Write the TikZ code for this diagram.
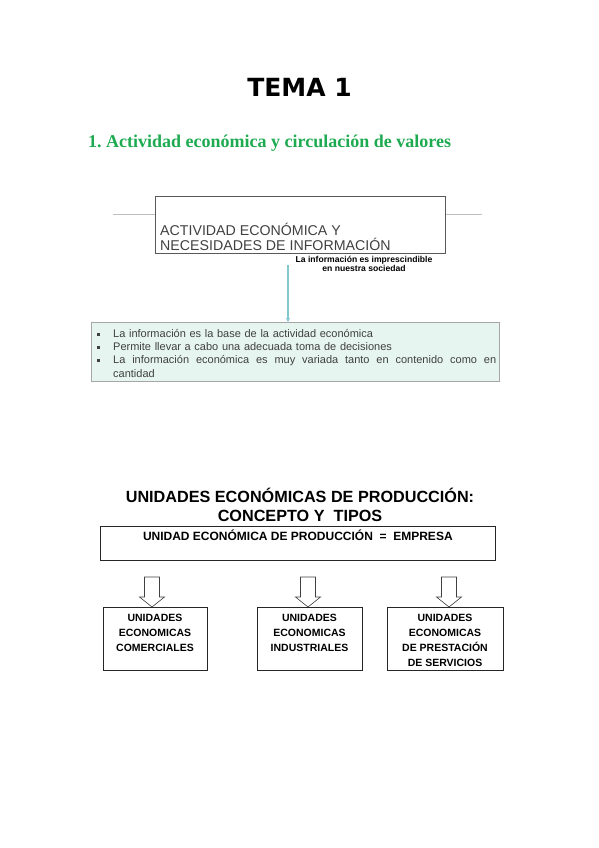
\documentclass[tikz,border=0pt]{standalone}
\usepackage{fontspec}
\setmainfont{Liberation Serif}
\setsansfont{Liberation Sans}
\newfontfamily\temafont{DejaVu Sans}
\usetikzlibrary{positioning,arrows.meta}

\newcommand{\infobullet}{\makebox[17pt][l]{\hspace*{1pt}\rule[1.5pt]{3pt}{3pt}}}

\begin{document}
\begin{tikzpicture}[x=1pt,y=-1pt]
  % some colors
  \definecolor{heading}{RGB}{30,170,80}
  \definecolor{mint}{RGB}{230,245,240}
  \definecolor{teal}{RGB}{130,200,210}
  \colorlet{frame}{black!65}
  \colorlet{ink}{black!75}
  % some styles
  \tikzset{
    titlebox/.style={draw=frame, line width=0.8pt, inner sep=0pt,
      minimum width=290pt, minimum height=57pt},
    titletext/.style={inner sep=0pt, align=left, text=ink,
      font=\sffamily\fontsize{14.2}{15}\selectfont},
    notetext/.style={inner sep=0pt, align=center,
      font=\sffamily\bfseries\fontsize{8.6}{9}\selectfont},
    sideline/.style={draw=black!25, line width=0.8pt},
    infoarrow/.style={draw=teal, line width=1.3pt,
      -{Stealth[length=4pt,width=4pt]}},
    listbox/.style={draw=black!35, fill=mint, line width=0.8pt, inner sep=0pt,
      minimum width=408pt, minimum height=59pt},
    listtext/.style={inner sep=0pt, align=left, text width=400pt, text=ink,
      font=\sffamily\fontsize{11}{13.3}\selectfont},
    unitbox/.style={draw=black!85, line width=0.7pt, inner sep=0pt,
      minimum height=#1},
    unittext/.style={inner sep=0pt, align=center,
      font=\sffamily\bfseries\fontsize{10.5}{15}\selectfont},
    blockarrow/.style={draw=black!75, fill=white, line width=0.6pt,
      line join=miter},
  }
  \useasboundingbox (0,0) rectangle (599,848);

  % page headings
  \node[font=\temafont\bfseries\fontsize{25}{30}\selectfont] (tema) at (299.5,87) {TEMA 1};
  \node[anchor=west, inner sep=0pt, text=heading, font=\bfseries\fontsize{18}{20}\selectfont]
    (sec) at (88,143) {1.\ Actividad económica y circulación de valores};

  % first diagram
  \node[titlebox, anchor=north west] (act) at (155,196) {};
  \node[titletext, anchor=south west] (acttxt) at ([shift={(5pt,3pt)}]act.south west)
    {ACTIVIDAD ECONÓMICA Y\\NECESIDADES DE INFORMACIÓN};
  \draw[sideline] ([yshift=10.5pt]act.west) -- ++(-42,0);
  \draw[sideline] ([yshift=10.5pt]act.east) -- ++(36,0);
  \node[notetext] (note) at (364,264) {La información es imprescindible\\en nuestra sociedad};
  \node[listbox, anchor=north west] (info) at (91,322) {};
  \coordinate (from) at (288,265);
  \draw[infoarrow] (from) -- (from |- info.north);
  \node[listtext, anchor=north west] (items) at (96,329) {%
    \infobullet La información es la base de la actividad económica\\
    \infobullet Permite llevar a cabo una adecuada toma de decisiones\\
    \infobullet\makebox[383pt][l]{La\hfill información\hfill económica\hfill es\hfill muy\hfill
      variada\hfill tanto\hfill en\hfill contenido\hfill como\hfill en}\\
    \hspace*{17pt}cantidad};

  % second diagram
  \node[font=\sffamily\bfseries\fontsize{16.2}{19}\selectfont, align=center, inner sep=0pt]
    (unid) at (300,505) {UNIDADES ECONÓMICAS DE PRODUCCIÓN:\\CONCEPTO Y\ \ TIPOS};
  \node[unitbox=34pt, minimum width=395pt, anchor=north west] (empresa) at (100,526) {};
  \node[unittext, font=\sffamily\bfseries\fontsize{12}{13}\selectfont, below=3.5pt of empresa.north]
    (eq) {UNIDAD ECONÓMICA DE PRODUCCIÓN\ \ =\ \ EMPRESA};
  % the three kinds of units
  \foreach \i/\bx/\bw/\ax/\txt in {
      1/155/104/152/{UNIDADES\\ECONOMICAS\\COMERCIALES},
      2/309.5/105/308/{UNIDADES\\ECONOMICAS\\INDUSTRIALES},
      3/445/116/449/{UNIDADES\\ECONOMICAS\\DE PRESTACIÓN\\DE SERVICIOS}} {
    \node[unitbox=63pt, minimum width=\bw pt, anchor=north] (u-\i) at (\bx,607) {};
    \node[unittext, anchor=north] (t-\i) at ([yshift=-7pt]u-\i.north) {\txt};
    \coordinate (tip-\i) at (\ax,607);
    \draw[blockarrow] (tip-\i) -- ++(12.5,-10) -- ++(-5,0) -- ++(0,-20)
      -- ++(-15,0) -- ++(0,20) -- ++(-5,0) -- cycle;
  }
\end{tikzpicture}
\end{document}
